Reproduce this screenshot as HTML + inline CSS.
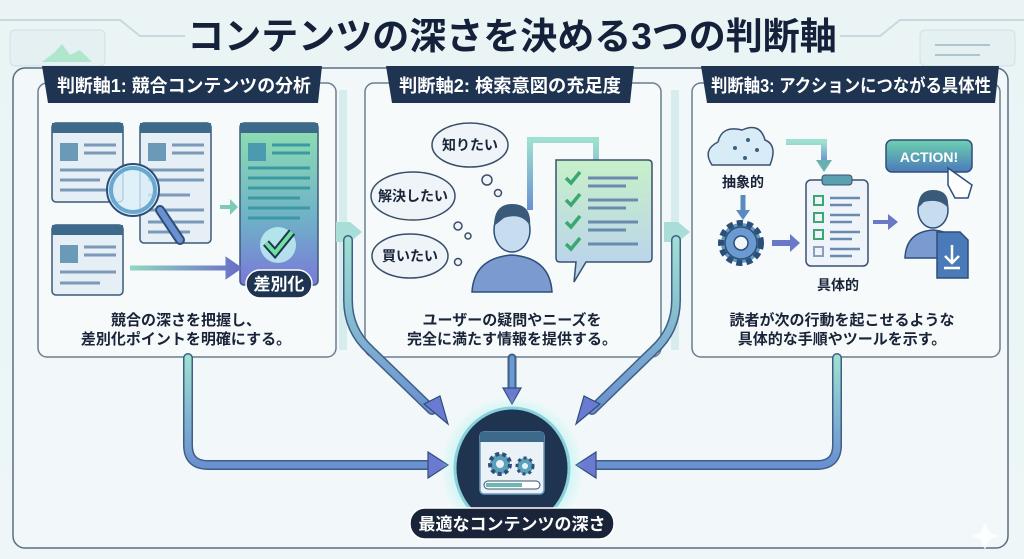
<!DOCTYPE html>
<html><head><meta charset="utf-8"><style>
html,body{margin:0;padding:0;width:1024px;height:559px;overflow:hidden;background:#eef6f6}
svg{display:block}
text{font-family:"Liberation Sans","Noto Sans CJK JP",sans-serif;font-weight:bold}
</style></head><body>
<svg width="1024" height="559" viewBox="0 0 1024 559" xmlns="http://www.w3.org/2000/svg">
<defs>
<linearGradient id="bg" x1="0" y1="0" x2="0" y2="1"><stop offset="0" stop-color="#eaf4f5"/><stop offset="1" stop-color="#eef6f7"/></linearGradient>
<linearGradient id="gp" x1="0" y1="0" x2="0" y2="1"><stop offset="0" stop-color="#8fe0b0"/><stop offset="0.6" stop-color="#6fb0c8"/><stop offset="1" stop-color="#7a78d8"/></linearGradient>
<linearGradient id="ar" x1="0" y1="0" x2="1" y2="0"><stop offset="0" stop-color="#8fd8c0"/><stop offset="1" stop-color="#6a70c8"/></linearGradient>
<linearGradient id="av" x1="0" y1="0" x2="0" y2="1"><stop offset="0" stop-color="#9fe0d0"/><stop offset="1" stop-color="#6a90d0"/></linearGradient>
<linearGradient id="bub" x1="0" y1="0" x2="0" y2="1"><stop offset="0" stop-color="#c8f0c8"/><stop offset="1" stop-color="#b8d0f0"/></linearGradient>
<radialGradient id="glow"><stop offset="0.6" stop-color="#9ff0f0" stop-opacity="0.8"/><stop offset="1" stop-color="#9ff0f0" stop-opacity="0"/></radialGradient>
<linearGradient id="btn" x1="0" y1="0" x2="0" y2="1"><stop offset="0" stop-color="#6ed0b0"/><stop offset="1" stop-color="#4a7ab8"/></linearGradient>
</defs>
<rect width="1024" height="559" fill="url(#bg)"/>
<g stroke="#c8d8e0" stroke-width="2" fill="none">
<path d="M0 20 H120 L140 36 H185"/><path d="M1024 20 H900 L880 36 H840"/>
</g>
<rect x="10" y="30" width="95" height="36" rx="5" fill="#e4f0f2" stroke="#d0e0e6"/>
<path d="M42 62 L55 52 L62 44 L70 55 L80 50 L92 62 Z" fill="#b0e6cc"/>
<rect x="920" y="30" width="95" height="36" rx="5" fill="#e4f0f2" stroke="#d0e0e6"/>
<g stroke="#b0c4d0" stroke-width="2"><path d="M935 45 H990"/><path d="M935 55 H980"/></g>
<text x="512" y="49" font-size="37" text-anchor="middle" fill="#15203a">コンテンツの深さを決める3つの判断軸</text>
<rect x="13" y="68" width="995" height="480" rx="12" fill="#f2f8f9" stroke="#5a6e80" stroke-width="1.5"/>
<g fill="#f6fafb" stroke="#6a7e90" stroke-width="1.5">
<rect x="38" y="83" width="298" height="274" rx="9"/>
<rect x="365" y="83" width="296" height="274" rx="9"/>
<rect x="692" y="83" width="308" height="274" rx="9"/>
</g>
<g fill="none" stroke="#cfeaea" stroke-width="8" opacity="0.8">
<path d="M343 90 V350"/><path d="M675 90 V350"/>
</g>
<path d="M336 222 H350 L362 232 L350 242 H336" fill="#a8ddd8"/>
<path d="M664 222 H678 L690 232 L678 242 H664" fill="#a8ddd8"/>
<g fill="#1f3450">
<path d="M42 66 H322 L318 103 H48 Z"/>
<path d="M386 66 H634 L630 103 H392 Z"/>
<path d="M701 66 H999 L995 103 H707 Z"/>
</g>
<g fill="#fff" font-size="18" text-anchor="middle">
<text x="184" y="92" textLength="254" lengthAdjust="spacingAndGlyphs">判断軸1: 競合コンテンツの分析</text>
<text x="510" y="92" textLength="222" lengthAdjust="spacingAndGlyphs">判断軸2: 検索意図の充足度</text>
<text x="851" y="92" textLength="280" lengthAdjust="spacingAndGlyphs">判断軸3: アクションにつながる具体性</text>
</g>
<g stroke="#3a5a78" stroke-width="1.5">
<rect x="52" y="123" width="71" height="79" rx="4" fill="#e6eef6"/>
<rect x="140" y="123" width="71" height="120" rx="4" fill="#e6eef6"/>
<rect x="52" y="225" width="71" height="70" rx="4" fill="#e6eef6"/>
<rect x="240" y="123" width="78" height="162" rx="4" fill="url(#gp)"/>
</g>
<g fill="#3d6a8a"><rect x="52" y="123" width="71" height="10"/><rect x="140" y="123" width="71" height="10"/><rect x="52" y="225" width="71" height="10"/><rect x="240" y="123" width="78" height="10"/></g>
<g fill="#6a9ab8"><rect x="60" y="143" width="18" height="18"/><rect x="148" y="143" width="18" height="18"/><rect x="60" y="245" width="18" height="18"/><rect x="248" y="143" width="18" height="18" fill="#4a9ab0"/></g>
<g stroke="#7a9ab8" stroke-width="3">
<path d="M84 145H116M84 153H116M60 170H116M60 180H100M60 190H110"/>
<path d="M172 145H204M172 153H204M148 170H204M148 180H204M148 195H190M148 210H204M148 222H204M148 232H190"/>
<path d="M84 247H116M84 255H116M60 272H116M60 283H100"/>
<path d="M272 145H310M272 153H310M248 168H310M248 178H310M248 188H310M248 198H300M248 208H310M248 218H300" stroke="#3a9aa0"/>
</g>
<path d="M160 210 L180 240" stroke="#2e4e7a" stroke-width="10" stroke-linecap="round"/>
<path d="M160 210 L180 240" stroke="#6a90d0" stroke-width="6" stroke-linecap="round"/>
<circle cx="133" cy="190" r="26" fill="#d8eef8" fill-opacity="0.8" stroke="#2e4e7a" stroke-width="2"/>
<circle cx="133" cy="190" r="22" fill="none" stroke="#6aa8d0" stroke-width="4"/>
<path d="M220 205 H230 V199 L238 207 L230 215 V209 H220 Z" fill="#7ccab8"/>
<path d="M130 268 H228 V261 L238 268 L228 275 V268" fill="url(#ar)" stroke="url(#ar)" stroke-width="5"/>
<circle cx="278" cy="245" r="18" fill="#cffff8" opacity="0.7"/>
<path d="M266 243 L275 253 L292 232" stroke="#1f3450" stroke-width="8" fill="none"/>
<path d="M266 243 L275 253 L292 232" stroke="#6fe0a0" stroke-width="4" fill="none"/>
<rect x="246" y="270" width="66" height="28" rx="14" fill="#1f3450" stroke="#fff" stroke-width="1.5"/>
<text x="279" y="290" font-size="17" fill="#fff" text-anchor="middle">差別化</text>
<g font-size="15" fill="#1a2438" text-anchor="middle">
<text x="186" y="325">競合の深さを把握し、</text>
<text x="186" y="344">差別化ポイントを明確にする。</text>
<text x="512" y="325">ユーザーの疑問やニーズを</text>
<text x="512" y="344">完全に満たす情報を提供する。</text>
<text x="842" y="325">読者が次の行動を起こせるような</text>
<text x="842" y="344">具体的な手順やツールを示す。</text>
</g>
<g fill="#eef4f8" stroke="#3a4e68" stroke-width="1.5">
<ellipse cx="470" cy="145" rx="38" ry="22"/>
<ellipse cx="413" cy="196" rx="42" ry="24"/>
<ellipse cx="410" cy="256" rx="38" ry="22"/>
<circle cx="487" cy="180" r="5"/><circle cx="498" cy="193" r="3.5"/>
<circle cx="458" cy="226" r="4"/><circle cx="468" cy="236" r="3"/>
<circle cx="458" cy="262" r="3.5"/>
</g>
<g font-size="14" fill="#1a2438" text-anchor="middle">
<text x="470" y="150">知りたい</text><text x="413" y="201">解決したい</text><text x="410" y="261">買いたい</text>
</g>
<path d="M530 210 V140 H596 V162" fill="none" stroke="url(#av)" stroke-width="6"/>
<path d="M588 160 L596 172 L604 160Z" fill="#6ab0b0"/>
<path d="M472 292 Q474 258 512 255 Q550 258 552 292 Z" fill="#7a9ad0" stroke="#2e4e7a" stroke-width="1.5"/>
<ellipse cx="512" cy="230" rx="18" ry="22" fill="#c8dcf0" stroke="#2e4e7a" stroke-width="1.5"/>
<path d="M494 226 Q494 204 512 204 Q532 204 530 226 Q522 212 504 218 Z" fill="#3a5a7a"/>
<path d="M556 160 H648 Q652 160 652 164 V258 Q652 262 648 262 H586 L574 282 L576 262 H560 Q556 262 556 258 Z" fill="url(#bub)" stroke="#3a5070" stroke-width="1.5"/>
<g fill="none" stroke="#3aa870" stroke-width="3.5"><path d="M566 178 L571 183 L580 172"/><path d="M566 200 L571 205 L580 194"/><path d="M566 222 L571 227 L580 216"/><path d="M566 244 L571 249 L580 238"/></g>
<g stroke="#6a8ab0" stroke-width="3"><path d="M588 178H638M588 186H626M588 200H638M588 208H626M588 222H638M588 230H626M588 244H638"/></g>
<path d="M712 165 Q702 150 718 142 Q722 125 742 130 Q760 122 765 140 Q778 145 770 165 Z" fill="#d8ecf8" stroke="#3a5070" stroke-width="1.5"/>
<g fill="#3a6080"><circle cx="735" cy="148" r="2"/><circle cx="748" cy="140" r="2"/><circle cx="757" cy="150" r="2"/><circle cx="745" cy="158" r="2"/></g>
<text x="743" y="187" font-size="14" fill="#1a2438" text-anchor="middle">抽象的</text>
<path d="M786 142 H824 V162" fill="none" stroke="url(#av)" stroke-width="6"/>
<path d="M816 160 L824 172 L832 160Z" fill="#6ab0b0"/>
<path d="M743 195 V212" stroke="#5a8ac0" stroke-width="5"/><path d="M736 210 L743 220 L750 210Z" fill="#5a8ac0"/>
<circle cx="741" cy="243" r="20" fill="#5aa0b8" stroke="#2e4e7a" stroke-width="6" stroke-dasharray="6 4"/>
<circle cx="741" cy="243" r="16" fill="#6a9ad0" stroke="#2e4e7a" stroke-width="1.5"/>
<circle cx="741" cy="243" r="7" fill="#f0f6fa" stroke="#2e4e7a" stroke-width="1.5"/>
<path d="M772 240 H790 V234 L800 243 L790 252 V246 H772 Z" fill="#6a78c8"/>
<rect x="806" y="180" width="62" height="86" rx="5" fill="#eef4fa" stroke="#3a5070" stroke-width="1.5"/>
<rect x="822" y="175" width="30" height="10" rx="3" fill="#5aa0b0" stroke="#3a5070"/>
<g fill="none" stroke="#3aa870" stroke-width="2"><rect x="814" y="196" width="9" height="9"/><rect x="814" y="213" width="9" height="9"/><rect x="814" y="230" width="9" height="9"/><rect x="814" y="247" width="9" height="9" stroke="#8aa0b8"/></g>
<g stroke="#6a8ab0" stroke-width="2.5"><path d="M830 198H860M830 205H852M830 215H860M830 222H852M830 232H860M830 239H852M830 249H860M830 256H852"/></g>
<text x="838" y="290" font-size="14" fill="#1a2438" text-anchor="middle">具体的</text>
<path d="M873 220 H888 V214 L898 222 L888 230 V224 H873 Z" fill="#6a78c8"/>
<rect x="886" y="140" width="86" height="32" rx="6" fill="url(#btn)" stroke="#2e4e7a" stroke-width="1.5"/>
<text x="929" y="162" font-size="14" fill="#fff" text-anchor="middle">ACTION!</text>
<path d="M948 168 V185 L955 198 H968 L972 185 Z" fill="#fff" stroke="#2e4e7a" stroke-width="1.5"/>
<path d="M905 258 Q906 232 933 230 Q960 232 962 258 Z" fill="#7a9ad0" stroke="#2e4e7a" stroke-width="1.5"/>
<ellipse cx="933" cy="210" rx="15" ry="18" fill="#c8dcf0" stroke="#2e4e7a" stroke-width="1.5"/>
<path d="M918 208 Q918 190 933 190 Q950 190 948 208 Q940 198 924 202 Z" fill="#3a5a7a"/>
<path d="M937 232 H960 L968 240 V278 H937 Z" fill="#4a7ab8" stroke="#2e4e7a" stroke-width="1.5"/>
<path d="M952 245 V262 M945 256 L952 263 L959 256 M944 268 H960" stroke="#fff" stroke-width="2.5" fill="none"/>
<g fill="none" stroke-linecap="round">
<path d="M188 358 V445 Q188 465 208 465 H430" stroke="#3e5e88" stroke-width="10"/>
<path d="M188 358 V445 Q188 465 208 465 H430" stroke="url(#av)" stroke-width="7"/>
<path d="M837 358 V445 Q837 465 817 465 H595" stroke="#3e5e88" stroke-width="10"/>
<path d="M837 358 V445 Q837 465 817 465 H595" stroke="url(#av)" stroke-width="7"/>
<path d="M348 240 V300 Q348 330 370 350 L432 410" stroke="#3e5e88" stroke-width="10"/>
<path d="M348 240 V300 Q348 330 370 350 L432 410" stroke="url(#av)" stroke-width="7"/>
<path d="M676 240 V300 Q676 330 654 350 L592 410" stroke="#3e5e88" stroke-width="10"/>
<path d="M676 240 V300 Q676 330 654 350 L592 410" stroke="url(#av)" stroke-width="7"/>
<path d="M512 358 V390" stroke="#3e5e88" stroke-width="9"/>
<path d="M512 358 V390" stroke="#6a9ad0" stroke-width="5"/>
</g>
<g fill="#6a7ad0" stroke="#2e4e7a" stroke-width="1.2">
<path d="M428 452 L448 465 L428 478 Z"/><path d="M596 452 L576 465 L596 478 Z"/>
<path d="M503 388 L512 404 L521 388 Z"/>
<path d="M424 404 L448 424 L440 396 Z"/><path d="M600 404 L576 424 L584 396 Z"/>
</g>
<ellipse cx="512" cy="468" rx="72" ry="72" fill="url(#glow)"/>
<ellipse cx="512" cy="468" rx="57" ry="60" fill="#1f3450" stroke="#8ad0d8" stroke-width="3"/>
<rect x="480" y="432" width="64" height="62" rx="4" fill="#eaf2f8" stroke="#6a9ac0" stroke-width="1.5"/>
<rect x="480" y="432" width="64" height="10" fill="#3d6a8a"/>
<circle cx="500" cy="464" r="10" fill="#5aa0b8" stroke="#2e4e7a" stroke-width="4" stroke-dasharray="4 3"/>
<circle cx="500" cy="464" r="4" fill="#eaf2f8"/>
<circle cx="525" cy="466" r="8" fill="#5aa0b8" stroke="#2e4e7a" stroke-width="3" stroke-dasharray="3 3"/>
<circle cx="525" cy="466" r="3" fill="#eaf2f8"/>
<rect x="484" y="481" width="56" height="8" rx="4" fill="#fff" stroke="#3a5070"/>
<rect x="486" y="483" width="36" height="4" fill="#6ab8b0"/>
<rect x="410" y="508" width="204" height="31" rx="15" fill="#1a2438" stroke="#ffffff" stroke-width="1.5"/>
<text x="512" y="530" font-size="17" fill="#fff" text-anchor="middle">最適なコンテンツの深さ</text>
<path d="M985 522 L989 532 L998 536 L989 540 L985 550 L981 540 L972 536 L981 532 Z" fill="#ffffff" opacity="0.8"/>
</svg>
</body></html>
